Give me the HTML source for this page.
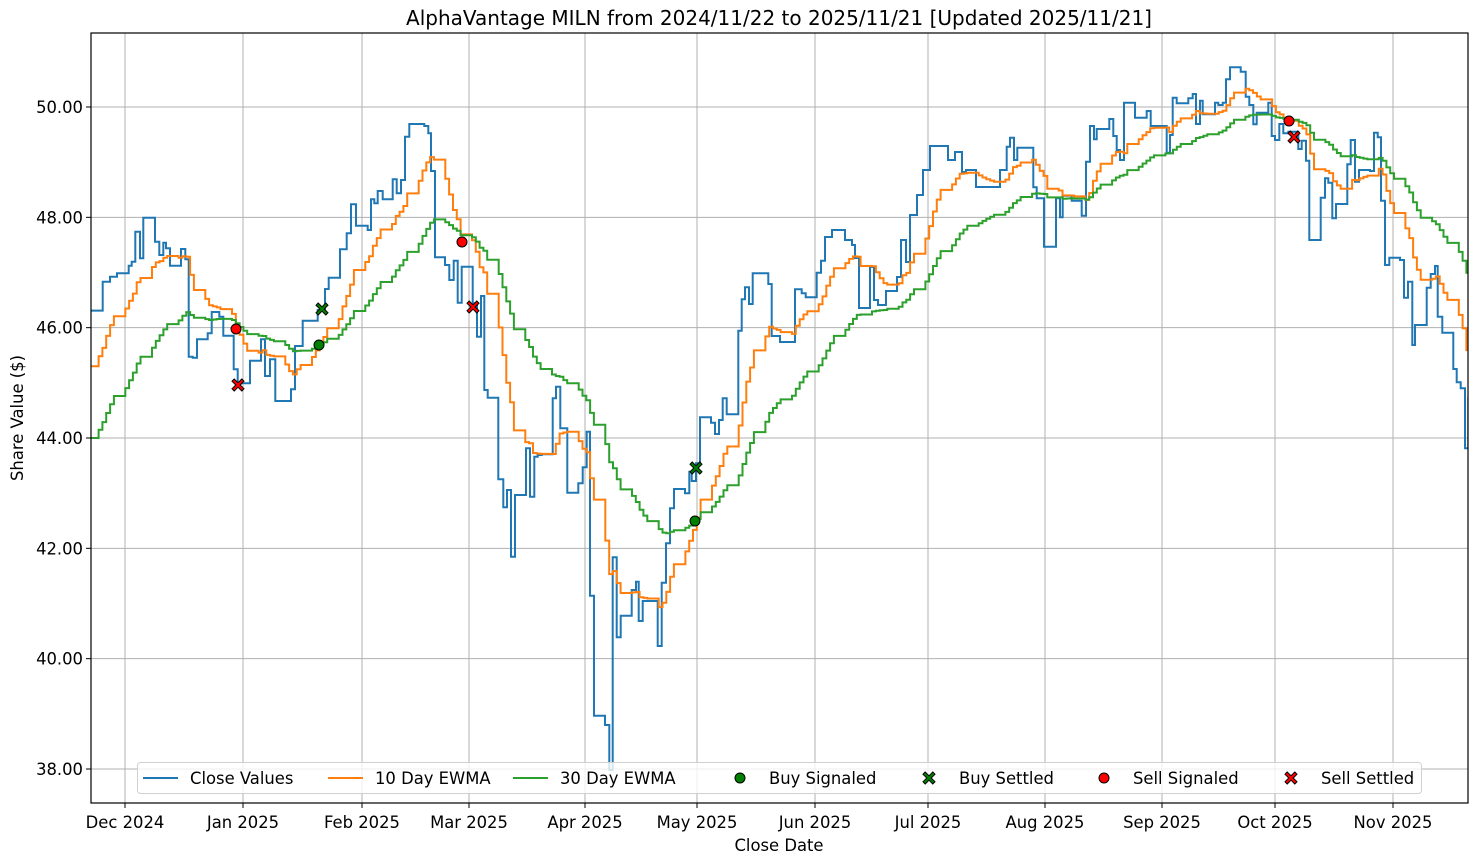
<!DOCTYPE html>
<html><head><meta charset="utf-8"><style>
html,body{margin:0;padding:0;background:#fff;}
svg{display:block;font-family:"DejaVu Sans","Liberation Sans",sans-serif;}
</style></head><body>
<svg id="s" width="1478" height="864" xmlns="http://www.w3.org/2000/svg"></svg>
<script>
const S=document.getElementById('s');
let h='';
const L=91,R=1468,T=33,B=803;
const FS=16.4;
function yv(v){return 769-(v-38)*55.1667;}
const yt=[38,40,42,44,46,48,50];
const xt=[[125,'Dec 2024'],[243,'Jan 2025'],[362,'Feb 2025'],[469,'Mar 2025'],[585,'Apr 2025'],[697,'May 2025'],[815,'Jun 2025'],[928,'Jul 2025'],[1045,'Aug 2025'],[1162,'Sep 2025'],[1275,'Oct 2025'],[1393,'Nov 2025']];
h+=`<rect x="${L}" y="${T}" width="${R-L}" height="${B-T}" fill="#fff"/>`;
for(const v of yt){const y=yv(v);h+=`<line x1="${L}" x2="${R}" y1="${y}" y2="${y}" stroke="#b0b0b0" stroke-width="1"/>`;
h+=`<line x1="${L-5}" x2="${L}" y1="${y}" y2="${y}" stroke="#000"/>`;
h+=`<text x="${L-8}" y="${y+6}" font-size="${FS}" text-anchor="end">${v.toFixed(2)}</text>`;}
for(const [x,t] of xt){h+=`<line x1="${x}" x2="${x}" y1="${T}" y2="${B}" stroke="#b0b0b0" stroke-width="1"/>`;
h+=`<line x1="${x}" x2="${x}" y1="${B}" y2="${B+5}" stroke="#000"/>`;
h+=`<text x="${x}" y="${B+25}" font-size="${FS}" text-anchor="middle">${t}</text>`;}
function conv(ox,oy,arr,sc){return arr.map(a=>[ox+a[0]/sc,oy+a[1]/sc]);}
let z1=conv(91,100,[[0,632],[35,545],[57,530],[78,520],[113,497],[122,485],[133,395],[147,475],[157,353],[192,425],[205,465],[217,428],[225,445],[237,497],[270,447],[283,478],[293,770],[305,773],[318,718],[350,700],[362,636],[385,650],[397,707],[428,808],[440,850],[477,782],[510,718],[522,828],[537,778],[553,903],[600,868],[612,738],[635,662],[680,630],[702,567],[713,533],[747,448],[767,400],[780,313],[795,377],[830,390],[840,298],[850,310],[860,273],[875,298],[905,238],[917,280],[930,240],[942,110],[955,72],[1000,78],[1012,100],[1020,213],[1032,472],[1062,495],[1075,540],[1088,482],[1100,608],[1112,500],[1145,610],[1158,710],[1170,588],[1180,870],[1190,893],[1222,1138],[1237,1222],[1248,1170],[1260,1370],[1272,1185],[1305,1045],[1317,1190],[1330,1070],[1340,1065],[1352,1063],[1385,895],[1395,860],[1408,985],[1428,1185]],3);
let z2=conv(560,250,[[22,728],[55,700],[68,652],[80,545],[90,1037],[102,1397],[135,1425],[148,1560],[158,922],[170,1162],[182,1097],[215,1020],[228,995],[236,1113],[248,1053],[293,1188],[305,998],[318,880],[330,775],[342,717],[375,730],[388,665],[395,693],[408,640],[420,502],[453,518],[465,552],[477,510],[488,445],[500,493],[535,242],[545,148],[555,112],[567,162],[578,70],[625,102],[635,258],[660,276],[705,118],[725,130],[737,142],[770,68],[783,32]],3);
let mid=[[825,237],[832,230],[845,240],[852,245],[855,258],[859,308],[870,267],[874,300],[878,305],[886,291],[897,277],[901,240],[906,262],[910,215],[917,195],[923,170],[930,146],[948,160],[955,152],[962,172],[966,170],[976,187]];
let z3=conv(1000,50,[[0,360],[20,290],[30,263],[42,330],[52,293],[100,412],[110,445],[132,590],[168,445],[180,502],[188,437],[215,452],[245,497],[258,335],[270,228],[282,268],[290,237],[328,207],[340,258],[350,300],[360,330],[372,158],[405,203],[440,183],[452,228],[500,308],[510,255],[518,143],[530,160],[565,145],[578,132],[588,222],[600,152],[608,193],[645,158],[655,165],[668,158],[678,88],[690,52],[722,65],[737,140],[748,165],[760,223],[770,188],[805,158],[815,258],[825,270],[838,222],[850,250],[865,245],[895,297],[905,272],[918,332],[928,570],[962,443],[975,385],[985,398],[997,505],[1008,462],[1042,343],[1052,270],[1065,395],[1077,360],[1110,363],[1122,248],[1133,262],[1143,452],[1155,645],[1168,623],[1200,630],[1212,743],[1224,695],[1237,885],[1245,825],[1280,713],[1292,672],[1305,648],[1313,800],[1327,848],[1360,957],[1370,997],[1382,1015],[1395,1195],[1405,1040]],3);
let pts=[];
for(const p of z1){if(p[0]<567)pts.push(p);}
for(const p of z2){if(p[0]>=567&&p[0]<825)pts.push(p);}
for(const p of mid){pts.push(p);}
for(const p of z3){if(p[0]>=1000)pts.push(p);}
pts.sort((a,b)=>a[0]-b[0]);
function stepPath(p,end){let d=`M${p[0][0]},${p[0][1]}`;for(let i=1;i<p.length;i++){d+=`H${p[i][0].toFixed(1)}V${p[i][1].toFixed(1)}`;}d+=`H${end}`;return d;}
function valAt(x){let y=pts[0][1];for(const p of pts){if(p[0]<=x)y=p[1];else break;}return y;}
function ewma(a,y0,step){let o=[],y=y0;for(let x=L;x<R;x+=step){const idx=Math.round((x-L)/step);const dow=(idx+5)%7;if(dow<5){y=y+a*(valAt(x)-y);}o.push([x,y]);}return o;}
const st=3.81;
let org=ewma(2/11,yv(45.3),st);
let grn=ewma(2/31,yv(44.0),st);
h+=`<defs><clipPath id="c"><rect x="${L}" y="${T}" width="${R-L}" height="${B-T}"/></clipPath></defs>`;
h+=`<g clip-path="url(#c)" fill="none" stroke-width="2" stroke-linejoin="miter">`;
h+=`<path d="${stepPath(pts,R)}" stroke="#1f77b4"/>`;
h+=`<path d="${stepPath(org,R)}" stroke="#ff7f0e"/>`;
h+=`<path d="${stepPath(grn,R)}" stroke="#2ca02c"/>`;
h+=`</g>`;
function circ(x,y,c,r){r=r||5;return `<circle cx="${x}" cy="${y}" r="${r}" fill="${c}" stroke="#000" stroke-width="1"/>`;}
function xm(x,y,c){const a=2.2,b=6;const P=[[-b+a,-b],[0,-a],[b-a,-b],[b,-b+a],[a,0],[b,b-a],[b-a,b],[0,a],[-b+a,b],[-b,b-a],[-a,0],[-b,-b+a]];return `<polygon points="${P.map(p=>(x+p[0])+','+(y+p[1])).join(' ')}" fill="${c}" stroke="#000" stroke-width="1"/>`;}
h+=circ(319,345,'green')+circ(695,521,'green');
h+=xm(322,309,'green')+xm(696,468,'green');
h+=circ(236,329,'red')+circ(462,242,'red')+circ(1289,121,'red');
h+=xm(238,385,'red')+xm(473,307,'red')+xm(1294,137,'red');
h+=`<rect x="${L}" y="${T}" width="${R-L}" height="${B-T}" fill="none" stroke="#000" stroke-width="1.2"/>`;
h+=`<rect x="137.5" y="762.5" width="1284" height="31" rx="3" fill="#fff" fill-opacity="0.8" stroke="#d0d0d0"/>`;
const lg=[[143,'#1f77b4','Close Values','l'],[328,'#ff7f0e','10 Day EWMA','l'],[513,'#2ca02c','30 Day EWMA','l'],[740,'green','Buy Signaled','c'],[929,'green','Buy Settled','x'],[1104,'red','Sell Signaled','c'],[1291,'red','Sell Settled','x']];
for(const [x,c,t,k] of lg){let tx;
if(k=='l'){h+=`<line x1="${x}" x2="${x+35}" y1="778" y2="778" stroke="${c}" stroke-width="2"/>`;tx=x+47;}
else if(k=='c'){h+=circ(x,778,c,5);tx=x+29;}
else{h+=xm(x,778,c);tx=x+30;}
h+=`<text x="${tx}" y="784" font-size="${FS}">${t}</text>`;}
h+=`<text x="779" y="25" font-size="20" text-anchor="middle">AlphaVantage MILN from 2024/11/22 to 2025/11/21 [Updated 2025/11/21]</text>`;
h+=`<text x="779" y="851" font-size="${FS}" text-anchor="middle">Close Date</text>`;
h+=`<text transform="translate(23,418) rotate(-90)" font-size="${FS}" text-anchor="middle">Share Value ($)</text>`;
S.innerHTML=h;
</script>
</body></html>
